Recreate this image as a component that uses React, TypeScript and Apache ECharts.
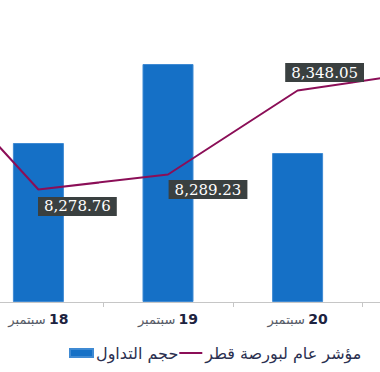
import React, { useEffect, useRef } from 'react';
import * as echarts from 'echarts';

// Categories (days of September); first and last are only partly in view
const categories = ['17', '18', '19', '20', '21'];
const monthLabel = 'سبتمبر';
const seriesNames = ['حجم التداول', 'مؤشر عام لبورصة قطر'];
// Trading volume (relative, axis hidden)
const volume = [170, 159, 238, 149, 190];
// Qatar Exchange general index
const indexValues = [8378.0, 8278.76, 8289.23, 8348.05, 8361.5];
// which index points carry a value label
const showIndexLabel = [false, true, true, true, false];

// label offsets (style only)
const labelOffsets: Array<[number, number]> = [[0, 0], [39, 17], [40, 15], [27, -18], [0, 0]];

const SHIFT = 156; // chart canvas extends left of the visible window

const fmt = (v: number) =>
  v.toLocaleString('en-US', { minimumFractionDigits: 2, maximumFractionDigits: 2 });

export default function App() {
  const ref = useRef<HTMLDivElement>(null);
  useEffect(() => {
    if (!ref.current) return;
    const chart = echarts.init(ref.current, undefined, { renderer: 'svg' });
    chart.setOption({
      animation: false,
      backgroundColor: '#ffffff',
      grid: { left: 0, right: 0, top: 2, bottom: 70 },
      legend: {
        left: 69 + SHIFT,
        top: 345,
        padding: 0,
        itemGap: 1,
        itemWidth: 23,
        itemHeight: 8,
        textStyle: { fontSize: 16, fontFamily: 'DejaVu Sans', color: '#2b3050', padding: [0, 0, 0, -2] },
        data: [
          { name: seriesNames[0], icon: 'rect' },
          { name: seriesNames[1], icon: 'path://M0,0H23V2H0Z' },
        ],
      },
      xAxis: {
        type: 'category',
        data: categories,
        boundaryGap: true,
        axisLine: { lineStyle: { color: '#c6c6c6', width: 1 } },
        axisTick: { show: true, length: 5, interval: 0, lineStyle: { color: '#c6c6c6' } },
        axisLabel: {
          margin: 10,
          interval: (i: number) => i > 0 && i < categories.length - 1,
          formatter: (v: string) => `{m|${monthLabel}} {d|${v}}`,
          rich: {
            m: { fontSize: 13, fontFamily: 'DejaVu Sans', color: '#555a66' },
            d: { fontSize: 14, fontFamily: 'DejaVu Sans', color: '#1d2340', fontWeight: 'bold' },
          },
        },
      },
      yAxis: [
        { type: 'value', min: 0, max: 300, show: false, splitLine: { show: false } },
        { type: 'value', min: 8200, max: 8410, show: false, splitLine: { show: false } },
      ],
      series: [
        {
          name: seriesNames[0],
          type: 'bar',
          yAxisIndex: 0,
          barWidth: 51,
          data: volume,
          itemStyle: { color: '#1570c6', borderColor: '#3f8ad3', borderWidth: 1 },
        },
        {
          name: seriesNames[1],
          type: 'line',
          yAxisIndex: 1,
          symbol: 'circle',
          symbolSize: 1,
          showSymbol: true,
          lineStyle: { color: '#8b0e57', width: 2 },
          itemStyle: { color: '#8b0e57' },
          z: 5,
          data: indexValues.map((v, i) => ({
            value: v,
            label: {
              show: showIndexLabel[i],
              position: 'inside',
              offset: labelOffsets[i],
              formatter: () => fmt(v),
              color: '#ffffff',
              fontSize: 15,
              fontFamily: 'DejaVu Serif',
              backgroundColor: '#3a4040',
              padding: [2, 6, 2, 6],
            },
          })),
        },
      ],
    });
    return () => chart.dispose();
  }, []);
  return (
    <div
      ref={ref}
      style={{ position: 'fixed', left: -SHIFT, top: 0, width: 648, height: 372 }}
    />
  );
}
